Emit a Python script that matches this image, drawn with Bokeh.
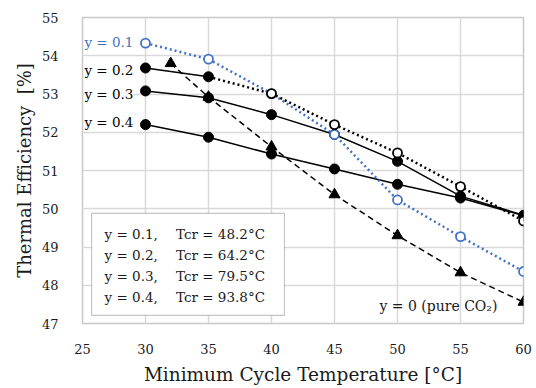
from bokeh.plotting import figure
from bokeh.models import Label, BoxAnnotation, FixedTicker, Range1d
from bokeh.embed import file_html
from bokeh.resources import INLINE

# ---- data ----
temps = [30, 35, 40, 45, 50, 55, 60]
eff_y01 = [54.33, 53.91, 53.01, 51.94, 50.23, 49.27, 48.36]
temps_y02_solid = [30, 35]
eff_y02_solid = [53.68, 53.45]
temps_y02_dot = [35, 40, 45, 50, 55, 60]
eff_y02_dot = [53.45, 53.01, 52.20, 51.46, 50.58, 49.68]
eff_y03 = [53.08, 52.90, 52.46, 51.94, 51.24, 50.33, 49.83]
eff_y04 = [52.20, 51.87, 51.43, 51.04, 50.64, 50.28, 49.82]
temps_co2 = [32, 35, 40, 45, 50, 55, 60]
eff_co2 = [53.80, 52.92, 51.62, 50.37, 49.30, 48.33, 47.56]

x_ticks = [25, 30, 35, 40, 45, 50, 55, 60]
y_ticks = [47, 48, 49, 50, 51, 52, 53, 54, 55]

series_labels = ["y = 0.1", "y = 0.2", "y = 0.3", "y = 0.4"]
tcr_labels = ["Tcr = 48.2°C", "Tcr = 64.2°C", "Tcr = 79.5°C", "Tcr = 93.8°C"]
co2_label = "y = 0 (pure CO₂)"

FONT = "DejaVu Serif"
BLUE = "#4472C4"
BLACK = "#000000"

p = figure(width=536, height=388,
           x_range=Range1d(25, 60), y_range=Range1d(47, 55),
           output_backend="svg", toolbar_location=None,
           min_border_left=82, min_border_right=13,
           min_border_top=17, min_border_bottom=65)

p.background_fill_color = "white"
p.border_fill_color = "white"
p.outline_line_color = "#c8c8c8"
p.outline_line_width = 1.5

p.xgrid.grid_line_color = "#d9d9d9"
p.ygrid.grid_line_color = "#d9d9d9"
p.xgrid.grid_line_width = 1.5
p.ygrid.grid_line_width = 1.5

p.xaxis.ticker = FixedTicker(ticks=x_ticks)
p.yaxis.ticker = FixedTicker(ticks=y_ticks)
for ax in (p.xaxis, p.yaxis):
    ax.axis_line_color = None
    ax.major_tick_line_color = None
    ax.minor_tick_line_color = None
    ax.major_tick_out = 0
    ax.major_tick_in = 0
    ax.major_label_text_font = FONT
    ax.major_label_text_font_size = "13px"
    ax.major_label_text_color = "#1a1a1a"
    ax.axis_label_text_font = FONT
    ax.axis_label_text_font_style = "normal"
    ax.axis_label_text_color = "#1a1a1a"

p.xaxis.axis_label_text_font_size = "18.5px"
p.yaxis.axis_label_text_font_size = "18px"

p.xaxis.axis_label = "Minimum Cycle Temperature [°C]"
p.xaxis.major_label_standoff = 20
p.xaxis.axis_label_standoff = 7
p.yaxis.axis_label = "Thermal Efficiency\u00a0 [%]"
p.yaxis.major_label_standoff = 24
p.yaxis.axis_label_standoff = 4

# pure CO2 (dashed, triangles)
p.line(temps_co2, eff_co2, line_color=BLACK, line_width=1.5, line_dash="6 4")
p.scatter(temps_co2, eff_co2, marker="triangle", size=11,
          fill_color=BLACK, line_color=BLACK)

# y = 0.3 and y = 0.4 (solid, filled circles)
for eff in (eff_y03, eff_y04):
    p.line(temps, eff, line_color=BLACK, line_width=1.5)
    p.scatter(temps, eff, marker="circle", size=10,
              fill_color=BLACK, line_color=BLACK)

# y = 0.2 solid part
p.line(temps_y02_solid, eff_y02_solid, line_color=BLACK, line_width=1.5)
p.scatter(temps_y02_solid, eff_y02_solid, marker="circle", size=10,
          fill_color=BLACK, line_color=BLACK)

# y = 0.1 (blue dotted, open circles)
p.line(temps, eff_y01, line_color=BLUE, line_width=2.5, line_dash="2 3")
p.scatter(temps, eff_y01, marker="circle", size=9,
          fill_color="white", line_color=BLUE, line_width=1.8)

# y = 0.2 dotted part (open circles)
p.line(temps_y02_dot, eff_y02_dot, line_color=BLACK, line_width=2.5, line_dash="2 3")
p.scatter(temps_y02_dot[1:], eff_y02_dot[1:], marker="circle", size=9,
          fill_color="white", line_color=BLACK, line_width=1.8)

# series labels on the left
label_ys = [54.35, 53.64, 53.01, 52.28]
label_colors = [BLUE, BLACK, BLACK, BLACK]
for txt, yy, col in zip(series_labels, label_ys, label_colors):
    p.add_layout(Label(x=25.15, y=yy, text=txt, text_font=FONT,
                       text_font_size="13.5px", text_color=col,
                       text_baseline="middle", text_align="left",
                       background_fill_color="white"))

# legend box
p.add_layout(BoxAnnotation(left=25.72, right=41.03, top=49.88, bottom=47.21,
                           fill_color="white", fill_alpha=1.0,
                           line_color="#404040", line_width=1.2))
box_ys = [49.33, 48.78, 48.24, 47.69]
for s, t, yy in zip(series_labels, tcr_labels, box_ys):
    p.add_layout(Label(x=26.75, y=yy, text=s + ",", text_font=FONT,
                       text_font_size="13.5px", text_color="#1a1a1a",
                       text_baseline="middle", text_align="left"))
    p.add_layout(Label(x=32.42, y=yy, text=t, text_font=FONT,
                       text_font_size="13.5px", text_color="#1a1a1a",
                       text_baseline="middle", text_align="left"))

p.add_layout(Label(x=57.93, y=47.47, text=co2_label, text_font=FONT,
                   text_font_size="14px", text_color="#1a1a1a",
                   text_baseline="middle", text_align="right"))

open("out.html", "w").write(file_html(p, INLINE))
